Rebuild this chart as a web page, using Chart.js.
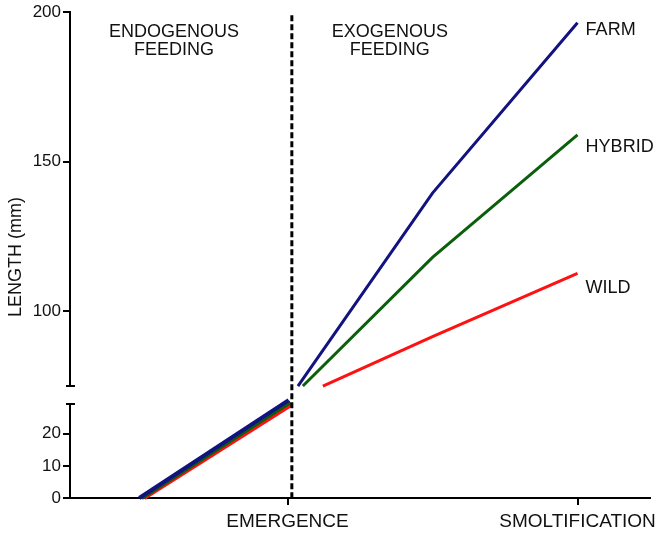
<!DOCTYPE html>
<html>
<head>
<meta charset="utf-8">
<script src="https://cdn.jsdelivr.net/npm/chart.js@4.4.1/dist/chart.umd.min.js"></script>
<style>
  html, body { margin: 0; padding: 0; background: #fff; }
  #chart { display: block; }
</style>
</head>
<body>
<canvas id="chart" width="664" height="535"></canvas>
<script>
// stages along the x axis
const stageValues = [1, 2];
const stageLabels = ["EMERGENCE", "SMOLTIFICATION"];
const emergenceX = 1.015;

// tick values on the two parts of the broken y axis
const upperTicks = [100, 150, 200];
const lowerTicks = [0, 10, 20];

const seriesNames = ["FARM", "HYBRID", "WILD"];
const seriesColors = ["#131380", "#0b5f0b", "#ff1111"];

// endogenous feeding, lower part of the axis: [stage, length mm]
const farmEndo = [[0.489, 0], [1.004, 30.4]];
const hybridEndo = [[0.497, 0], [1.01, 29.8]];
const wildEndo = [[0.506, 0], [1.016, 29.1]];

// exogenous feeding, upper part of the axis
const farmExo = [[1.036, 75], [1.5, 139.5], [2, 196.5]];
const hybridExo = [[1.053, 75], [1.5, 118], [2, 159]];
const wildExo = [[1.122, 75], [1.5, 91.5], [2, 112.7]];

const FONT = "'Liberation Sans', Arial, sans-serif";
const TEXT = "#111";

const toPoints = (arr) => arr.map(([x, y]) => ({ x, y }));

function lineSet(label, data, color, axis, width) {
  return {
    label,
    data: toPoints(data),
    borderColor: color,
    backgroundColor: color,
    borderWidth: width,
    pointRadius: 0,
    tension: 0,
    clip: false,
    yAxisID: axis,
  };
}

const datasets = [
  lineSet("FARM", farmEndo, seriesColors[0], "yLow", 4),
  lineSet("HYBRID", hybridEndo, seriesColors[1], "yLow", 4),
  lineSet("WILD", wildEndo, seriesColors[2], "yLow", 4),
  lineSet("FARM", farmExo, seriesColors[0], "yHigh", 3),
  lineSet("HYBRID", hybridExo, seriesColors[1], "yHigh", 3),
  lineSet("WILD", wildExo, seriesColors[2], "yHigh", 3),
];

// dashed line at emergence, axis break caps, text annotations
const decorations = {
  id: "decorations",
  afterDatasetsDraw(chart) {
    const { ctx, scales } = chart;
    const x = scales.x, hi = scales.yHigh, lo = scales.yLow;
    ctx.save();

    // emergence divider
    const ex = x.getPixelForValue(emergenceX);
    ctx.strokeStyle = "#000";
    ctx.lineWidth = 3;
    ctx.setLineDash([6, 3]);
    ctx.beginPath();
    ctx.moveTo(ex, hi.getPixelForValue(199));
    ctx.lineTo(ex, x.top);
    ctx.stroke();
    ctx.setLineDash([]);

    // break caps on the y axis
    const ax = hi.right;
    ctx.lineWidth = 2;
    ctx.beginPath();
    ctx.moveTo(ax - 4, hi.bottom);
    ctx.lineTo(ax + 5, hi.bottom);
    ctx.moveTo(ax - 4, lo.top);
    ctx.lineTo(ax + 5, lo.top);
    ctx.stroke();

    ctx.fillStyle = TEXT;
    ctx.font = "18px " + FONT;
    ctx.textBaseline = "middle";

    // phase headings
    ctx.textAlign = "center";
    ctx.fillText("ENDOGENOUS", x.getPixelForValue(0.609), hi.getPixelForValue(193.5));
    ctx.fillText("FEEDING", x.getPixelForValue(0.609), hi.getPixelForValue(187.4));
    ctx.fillText("EXOGENOUS", x.getPixelForValue(1.353), hi.getPixelForValue(193.5));
    ctx.fillText("FEEDING", x.getPixelForValue(1.353), hi.getPixelForValue(187.4));

    // series labels next to line ends
    ctx.textAlign = "left";
    const labelY = [194, 154.8, 107.7];
    seriesNames.forEach((name, i) => {
      ctx.fillText(name, x.getPixelForValue(2.028), hi.getPixelForValue(labelY[i]));
    });

    // y axis title, centred on the whole axis
    ctx.translate(16.5, (hi.top + lo.bottom) / 2 + 2);
    ctx.rotate(-Math.PI / 2);
    ctx.textAlign = "center";
    ctx.fillText("LENGTH (mm)", 0, 0);
    ctx.restore();
  },
};

const yCommon = {
  position: "left",
  stack: "length",
  afterFit: (s) => { s.width = 70; },
  border: { display: true, color: "#000", width: 2 },
  grid: { drawOnChartArea: false, drawTicks: true, tickLength: 7, color: "#000", lineWidth: 2 },
  ticks: { color: TEXT, font: { family: FONT, size: 17 }, padding: 2 },
};

new Chart(document.getElementById("chart"), {
  type: "line",
  data: { datasets },
  plugins: [decorations],
  options: {
    responsive: false,
    animation: false,
    devicePixelRatio: 1,
    layout: { padding: { top: 12, right: 14, bottom: 0, left: 0 } },
    plugins: { legend: { display: false }, tooltip: { enabled: false } },
    scales: {
      x: {
        type: "linear",
        min: 0.25,
        max: 2.25,
        afterFit: (s) => { s.height = 37; },
        afterBuildTicks: (s) => { s.ticks = stageValues.map((v) => ({ value: v })); },
        border: { display: true, color: "#000", width: 2 },
        grid: { drawOnChartArea: false, drawTicks: true, tickLength: 7, color: "#000", lineWidth: 2 },
        ticks: {
          color: TEXT,
          font: { family: FONT, size: 19 },
          padding: 5,
          maxRotation: 0,
          autoSkip: false,
          callback: (v) => stageLabels[stageValues.indexOf(v)],
        },
      },
      yHigh: {
        ...yCommon,
        type: "linear",
        weight: 3,
        stackWeight: 374,
        min: 75,
        max: 200,
        afterBuildTicks: (s) => { s.ticks = upperTicks.map((v) => ({ value: v })); },
      },
      yGap: {
        ...yCommon,
        type: "linear",
        weight: 2,
        stackWeight: 18,
        min: 0,
        max: 1,
        border: { display: false },
        grid: { display: false },
        ticks: { display: false },
      },
      yLow: {
        ...yCommon,
        type: "linear",
        weight: 1,
        stackWeight: 94,
        min: 0,
        max: 29.2,
        afterBuildTicks: (s) => { s.ticks = lowerTicks.map((v) => ({ value: v })); },
      },
    },
  },
});
</script>
</body>
</html>
